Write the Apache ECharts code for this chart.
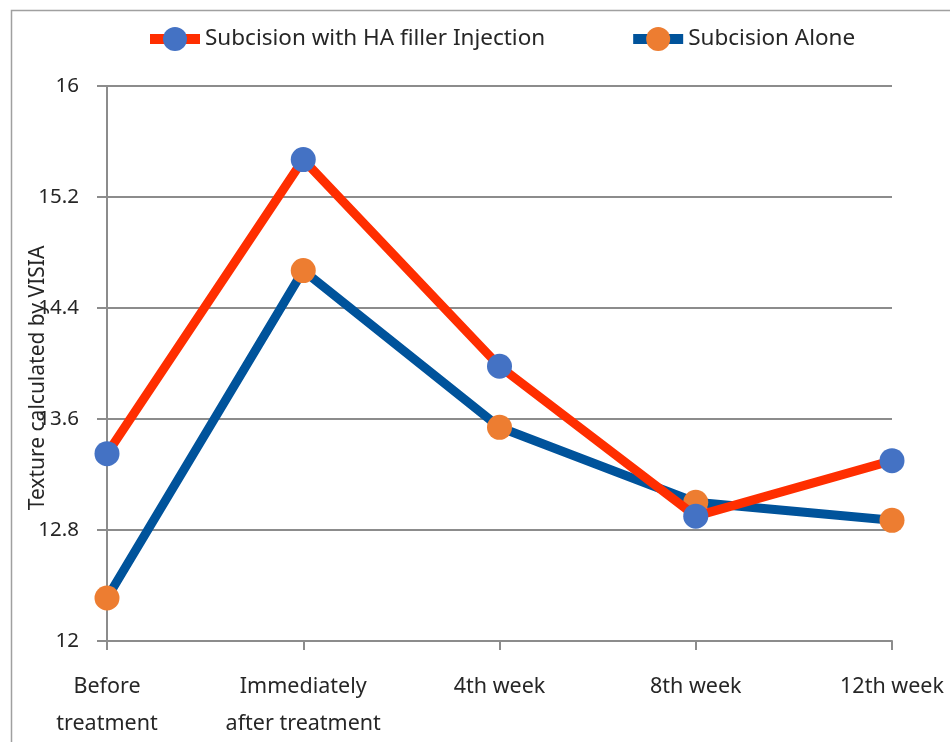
<!DOCTYPE html>
<html>
<head>
<meta charset="utf-8">
<script src="https://cdn.jsdelivr.net/npm/echarts@6/dist/echarts.min.js"></script>
<style>
  html, body { margin: 0; padding: 0; background: #fff; }
  #chart { width: 950px; height: 742px; }
</style>
</head>
<body>
<div id="chart"></div>
<script>
// Time points of the follow-up
const categories = ['Before\ntreatment', 'Immediately\nafter treatment', '4th week', '8th week', '12th week'];
// Mean texture score (VISIA) per group
const haFiller = [13.35, 15.47, 13.98, 12.90, 13.30];
const subcisionAlone = [12.31, 14.67, 13.54, 13.00, 12.87];
// Y axis range
const yMin = 12, yMax = 16, yStep = 0.8;

const font = '"Noto Sans", "DejaVu Sans", sans-serif';
const textColor = '#262626';
const axisGray = '#8c8c8c';

const chart = echarts.init(document.getElementById('chart'), null, { renderer: 'canvas' });

chart.setOption({
  backgroundColor: '#fff',
  animation: false,
  graphic: [
    {
      type: 'rect',
      shape: { x: 11.5, y: 10.5, width: 1000, height: 1000 },
      style: { fill: 'none', stroke: '#a0a0a0', lineWidth: 1.5 },
      silent: true
    },
    {
      type: 'text',
      x: 38, y: 378,
      rotation: Math.PI / 2,
      style: {
        text: 'Texture calculated by VISIA',
        font: '21px ' + font,
        fill: textColor,
        align: 'center',
        verticalAlign: 'middle'
      }
    }
  ],
  legend: {
    top: 22,
    left: 140,
    itemWidth: 50,
    itemHeight: 30,
    itemGap: 83,
    lineStyle: { width: 10 },
    textStyle: { fontFamily: font, fontSize: 22.5, color: textColor },
    data: ['Subcision with HA filler Injection', 'Subcision Alone']
  },
  grid: { left: 107, right: 58, top: 86, bottom: 101, containLabel: false },
  xAxis: {
    type: 'category',
    data: categories,
    boundaryGap: false,
    axisLine: { lineStyle: { color: axisGray, width: 2 } },
    axisTick: { show: true, alignWithLabel: true, length: 9, lineStyle: { color: axisGray, width: 2 } },
    axisLabel: { margin: 27, fontFamily: font, fontSize: 21.5, color: textColor, lineHeight: 37, interval: 0 },
    splitLine: { show: false }
  },
  yAxis: {
    type: 'value',
    min: yMin, max: yMax, interval: yStep,
    axisLine: { show: true, lineStyle: { color: axisGray, width: 2 } },
    axisTick: { show: true, length: 10, lineStyle: { color: axisGray, width: 2 } },
    axisLabel: {
      margin: 28, fontFamily: font, fontSize: 20.5, color: textColor,
      formatter: v => String(Math.round(v * 10) / 10)
    },
    splitLine: { show: true, lineStyle: { color: axisGray, width: 2 } }
  },
  series: [
    {
      name: 'Subcision with HA filler Injection',
      type: 'line',
      data: haFiller,
      symbol: 'circle',
      symbolSize: 25,
      lineStyle: { color: '#ff2e00', width: 9 },
      itemStyle: { color: '#4472c4' },
      z: 3
    },
    {
      name: 'Subcision Alone',
      type: 'line',
      data: subcisionAlone,
      symbol: 'circle',
      symbolSize: 25,
      lineStyle: { color: '#00539b', width: 9 },
      itemStyle: { color: '#ed7d31' },
      z: 2
    }
  ]
});
</script>
</body>
</html>
